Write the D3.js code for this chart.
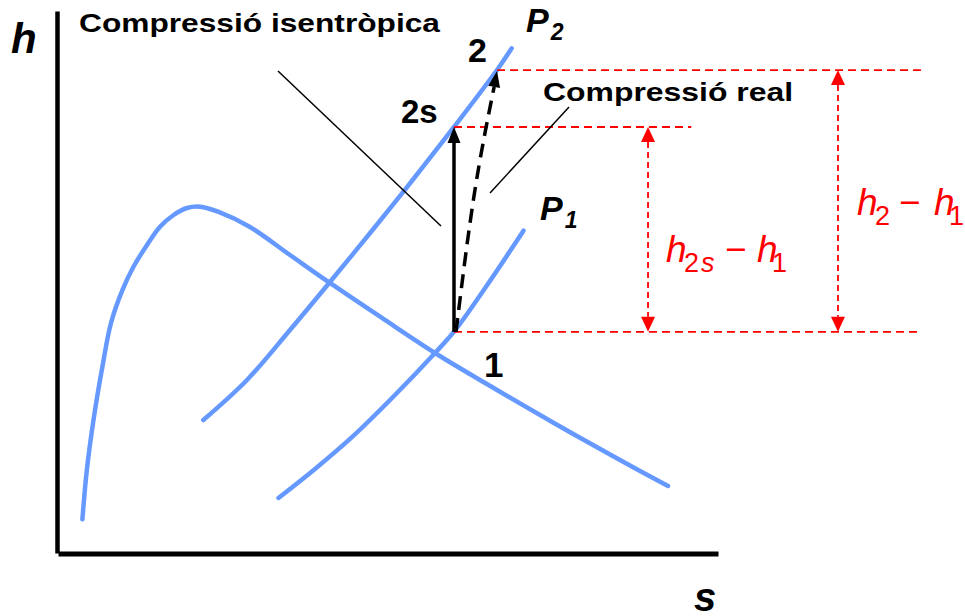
<!DOCTYPE html>
<html>
<head>
<meta charset="utf-8">
<script src="https://cdn.jsdelivr.net/npm/d3@7.9.0/dist/d3.min.js"></script>
<style>
  body { margin: 0; background: #fff; }
  svg { display: block; font-family: "Liberation Sans", Arial, sans-serif; }
</style>
</head>
<body>
<div id="chart"></div>
<script>
// saturation dome, [s, h]
const domeCurve = [
  [0.385, 0.622], [0.452, 1.531], [0.553, 2.454], [0.688, 3.437], [0.818, 4.244],
  [0.991, 4.852], [1.159, 5.282], [1.364, 5.683], [1.561, 6.020], [1.767, 6.236],
  [1.970, 6.365], [2.167, 6.389], [2.439, 6.297], [2.924, 6.015], [3.530, 5.498],
  [4.136, 4.982], [4.924, 4.336], [5.727, 3.690], [6.500, 3.127], [7.515, 2.408],
  [8.530, 1.716], [9.258, 1.236]
];

// isobar P2 (high pressure)
const isobarP2 = [
  [2.217, 2.454], [2.879, 3.192], [3.530, 4.114], [4.136, 5.000], [4.818, 6.015],
  [5.424, 6.937], [6.015, 7.860], [6.667, 8.911], [6.889, 9.312]
];

// isobar P1 (low pressure)
const isobarP1 = [
  [3.356, 1.015], [3.909, 1.550], [4.477, 2.146], [5.121, 2.915], [5.727, 3.690],
  [6.015, 4.083], [6.500, 4.913], [7.068, 5.946]
];

// states 1, 2s, 2
const stateNames = ['1', '2s', '2'];
const stateS = [6.015, 6.015, 6.667];
const stateH = [4.08, 7.86, 8.91];

// bend point of the real compression path
const realMid = [6.32, 6.6];

const width = 965;
const height = 616;

const svg = d3.select('#chart')
  .append('svg')
  .attr('width', width)
  .attr('height', height);

const x = d3.scaleLinear().domain([0, 10]).range([57, 717]);
const y = d3.scaleLinear().domain([0, 10]).range([553, 11]);

const blue = '#6699ff';
const red = '#ff0000';

// axes (no ticks, just the heavy lines)
svg.append('g')
  .attr('transform', 'translate(57,0)')
  .call(d3.axisLeft(y).ticks(0).tickSizeOuter(0))
  .call(g => g.select('.domain').attr('stroke', '#000').attr('stroke-width', 4.5));

svg.append('g')
  .attr('transform', 'translate(1,553.5)')
  .call(d3.axisBottom(x).ticks(0).tickSizeOuter(0))
  .call(g => g.select('.domain').attr('stroke', '#000').attr('stroke-width', 5));

// blue curves
const curve = d3.line()
  .x(d => x(d[0]))
  .y(d => y(d[1]))
  .curve(d3.curveCatmullRom.alpha(0.5));

[domeCurve, isobarP2, isobarP1].forEach(c => {
  svg.append('path')
    .attr('d', curve(c))
    .attr('fill', 'none')
    .attr('stroke', blue)
    .attr('stroke-width', 4.5)
    .attr('stroke-linecap', 'round');
});

const pt = i => [x(stateS[i]), y(stateH[i])];
const p1 = pt(0), p2s = pt(1), p2 = pt(2);

// arrow head: tip, angle pointing toward tip
function arrowHead(tip, ang, len, w, color) {
  const bx = tip[0] - len * Math.cos(ang);
  const by = tip[1] - len * Math.sin(ang);
  const px = -Math.sin(ang) * w / 2;
  const py = Math.cos(ang) * w / 2;
  svg.append('path')
    .attr('d', `M${tip[0]},${tip[1]}L${bx + px},${by + py}L${bx - px},${by - py}Z`)
    .attr('fill', color);
  return [bx, by];
}

// red dashed guide lines
const guides = [
  { from: p2, toS: 13.09 },
  { from: p2s, toS: 9.61 },
  { from: p1, toS: 13.09 }
];
guides.forEach(g => {
  svg.append('line')
    .attr('x1', g.from[0]).attr('y1', g.from[1])
    .attr('x2', x(g.toS)).attr('y2', g.from[1])
    .attr('stroke', red)
    .attr('stroke-width', 1.8)
    .attr('stroke-dasharray', '8,5');
});

// red double arrows
[{ s: 8.955, top: p2s[1] }, { s: 11.833, top: p2[1] }].forEach(a => {
  const xx = x(a.s);
  const t = arrowHead([xx, a.top], -Math.PI / 2, 15, 14, red);
  const b = arrowHead([xx, p1[1]], Math.PI / 2, 15, 14, red);
  svg.append('line')
    .attr('x1', xx).attr('y1', t[1])
    .attr('x2', xx).attr('y2', b[1])
    .attr('stroke', red)
    .attr('stroke-width', 1.8)
    .attr('stroke-dasharray', '6,4');
});

// isentropic compression: solid arrow 1 -> 2s
const sBase = arrowHead(p2s, -Math.PI / 2, 16, 13, '#000');
svg.append('line')
  .attr('x1', p1[0]).attr('y1', p1[1])
  .attr('x2', sBase[0]).attr('y2', sBase[1])
  .attr('stroke', '#000')
  .attr('stroke-width', 3.5);

// real compression: dashed arrow 1 -> 2
const pm = [x(realMid[0]), y(realMid[1])];
const ang = Math.atan2(p2[1] - pm[1], p2[0] - pm[0]);
const rBase = arrowHead([p2[0], p2[1] + 1], ang, 16, 12, '#000');
svg.append('path')
  .attr('d', d3.line().curve(d3.curveNatural)([[p1[0] + 2, p1[1]], pm, rBase]))
  .attr('fill', 'none')
  .attr('stroke', '#000')
  .attr('stroke-width', 3.5)
  .attr('stroke-dasharray', '14,8');

// leader lines
svg.append('line')
  .attr('x1', x(3.348)).attr('y1', y(8.893))
  .attr('x2', x(5.818)).attr('y2', y(6.033))
  .attr('stroke', '#000').attr('stroke-width', 1.5);
svg.append('line')
  .attr('x1', x(7.758)).attr('y1', y(8.229))
  .attr('x2', x(6.561)).attr('y2', y(6.642))
  .attr('stroke', '#000').attr('stroke-width', 1.5);

// axis titles
svg.append('text').attr('x', 11).attr('y', 53)
  .attr('font-size', 42).attr('font-weight', 'bold').attr('font-style', 'italic')
  .text('h');
svg.append('text').attr('x', 694).attr('y', 611)
  .attr('font-size', 40).attr('font-weight', 'bold').attr('font-style', 'italic')
  .text('s');

// annotations
svg.append('text').attr('x', 79).attr('y', 32)
  .attr('font-size', 26).attr('font-weight', 'bold')
  .attr('textLength', 361).attr('lengthAdjust', 'spacingAndGlyphs')
  .text('Compressió isentròpica');
svg.append('text').attr('x', 543).attr('y', 101)
  .attr('font-size', 26).attr('font-weight', 'bold')
  .attr('textLength', 250).attr('lengthAdjust', 'spacingAndGlyphs')
  .text('Compressió real');

// state labels
const stateLabelPos = [[484, 377, 35], [401, 123, 33], [468, 62, 34]];
stateNames.forEach((n, i) => {
  svg.append('text')
    .attr('x', stateLabelPos[i][0]).attr('y', stateLabelPos[i][1])
    .attr('font-size', stateLabelPos[i][2]).attr('font-weight', 'bold')
    .text(n);
});

// pressure labels
function pLabel(px, py, sub) {
  const t = svg.append('text').attr('x', px).attr('y', py)
    .attr('font-weight', 'bold').attr('font-style', 'italic');
  t.append('tspan').attr('font-size', 34).text('P');
  t.append('tspan').attr('font-size', 23).attr('dx', 2).attr('dy', 8).text(sub);
}
pLabel(526, 32, '2');
pLabel(540, 220, '1');

// enthalpy differences
function diffLabel(px, py, sub, subX, minusX, hX, oneX) {
  const t = svg.append('text').attr('y', py).attr('fill', red).attr('font-size', 37);
  t.append('tspan').attr('x', px).attr('font-style', 'italic').text('h');
  const s = t.append('tspan').attr('x', subX).attr('dy', 10).attr('font-size', 27);
  s.append('tspan').text(sub[0]);
  if (sub.length > 1) s.append('tspan').attr('font-style', 'italic').attr('dx', 2).text(sub.slice(1));
  t.append('tspan').attr('x', minusX).attr('y', py).text('−');
  t.append('tspan').attr('x', hX).attr('font-style', 'italic').text('h');
  t.append('tspan').attr('x', oneX).attr('dy', 10).attr('font-size', 27).text('1');
}
diffLabel(666, 262, '2s', 684, 725, 757, 772);
diffLabel(857, 215, '2', 875, 899, 934, 949);
</script>
</body>
</html>
